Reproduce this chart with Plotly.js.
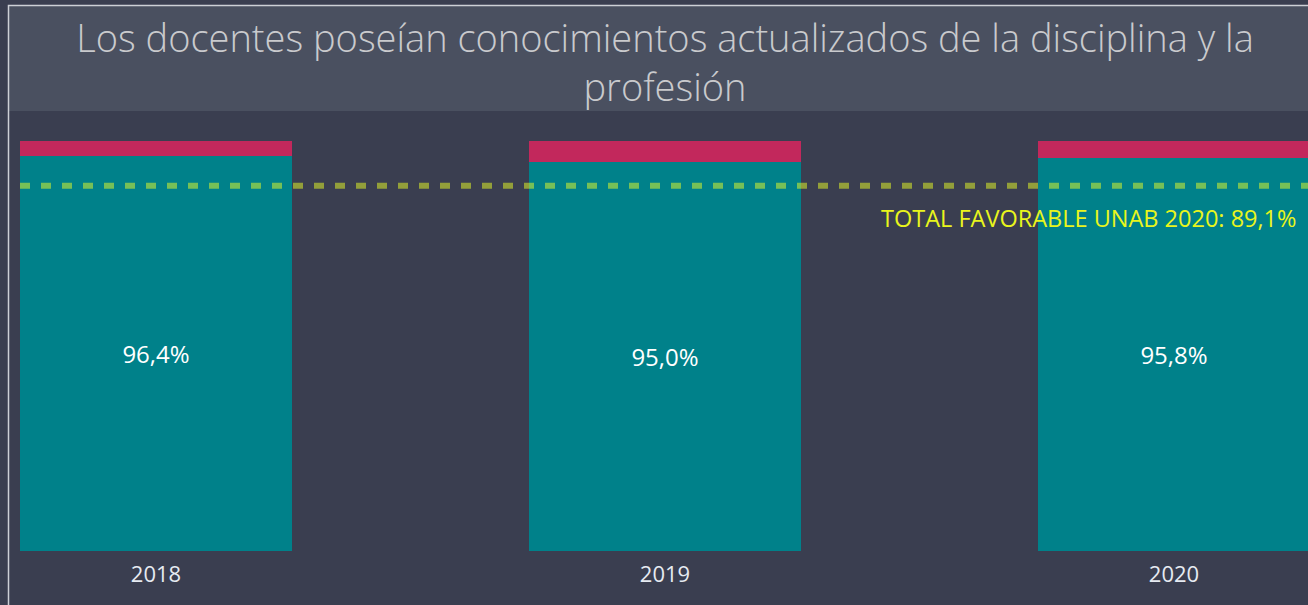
<!DOCTYPE html>
<html>
<head>
<meta charset="utf-8">
<script src="https://cdn.plot.ly/plotly-3.0.1.min.js"></script>
<style>
html,body{margin:0;padding:0;background:#3a3e50;overflow:hidden;}
#chart{width:1308px;height:605px;}
</style>
</head>
<body>
<div id="chart"></div>
<script>
const years = ['2018', '2019', '2020'];
const favorable = [96.4, 95.0, 95.8];
const unfavorable = [3.6, 5.0, 4.2];
const benchmarkValue = 89.1;
const benchmarkLabel = 'TOTAL FAVORABLE UNAB 2020: ';
const chartTitle = 'Los docentes poseían conocimientos actualizados de la disciplina y la<br>profesión';

const fmt = v => v.toFixed(1).replace('.', ',') + '%';

const traces = [
  {
    type: 'bar', x: years, y: favorable, name: 'Favorable',
    marker: {color: '#00818a'},
    text: favorable.map(fmt), textposition: 'inside', insidetextanchor: 'middle',
    textfont: {family: 'Open Sans', size: 24, color: '#ffffff'},
    hoverinfo: 'none'
  },
  {
    type: 'bar', x: years, y: unfavorable, name: 'Desfavorable',
    marker: {color: '#c2285c'},
    hoverinfo: 'none'
  }
];

const layout = {
  width: 1308, height: 605,
  paper_bgcolor: '#3a3e50', plot_bgcolor: 'rgba(0,0,0,0)',
  barmode: 'stack', bargap: 0.4656,
  showlegend: false,
  margin: {l: 20, r: 0, t: 141, b: 54},
  title: {
    text: chartTitle,
    font: {family: 'Open Sans', size: 38, color: '#c9cacd', weight: 300},
    xref: 'container', x: 665 / 1308, xanchor: 'center',
    yref: 'container', y: 1 - 52 / 605, yanchor: 'top'
  },
  xaxis: {
    type: 'category', range: [-0.2672, 2.2633],
    showgrid: false, zeroline: false, showline: false, ticks: '',
    tickfont: {family: 'Open Sans', size: 22, color: '#e6ebf2'},
    ticklabelstandoff: 8
  },
  yaxis: {range: [0, 100], visible: false, fixedrange: true},
  shapes: [
    {type: 'rect', xref: 'paper', yref: 'paper', layer: 'below',
     x0: (9 - 20) / 1288, x1: 1.02, y0: (551 - 111) / 410, y1: (551 - 6) / 410,
     fillcolor: '#4a5060', line: {width: 0}},
    {type: 'rect', xref: 'paper', yref: 'paper', layer: 'above',
     x0: (8.5 - 20) / 1288, x1: 1.05, y0: -0.5, y1: (551 - 5.5) / 410,
     fillcolor: 'rgba(0,0,0,0)', line: {color: '#cdd0d6', width: 1.5}},
    {type: 'line', xref: 'paper', yref: 'y', layer: 'above',
     x0: 0, x1: 1, y0: benchmarkValue, y1: benchmarkValue,
     line: {color: 'rgba(235,255,35,0.5)', width: 6, dash: '10px,11px'}}
  ],
  annotations: [
    {xref: 'paper', yref: 'y', x: (1298 - 20) / 1288, y: benchmarkValue - 7.8,
     xanchor: 'right', yanchor: 'middle', showarrow: false,
     text: benchmarkLabel + fmt(benchmarkValue),
     font: {family: 'Open Sans', size: 23.5, color: '#e9f51c'}}
  ]
};

Plotly.newPlot('chart', traces, layout, {displayModeBar: false, staticPlot: true});
</script>
</body>
</html>
